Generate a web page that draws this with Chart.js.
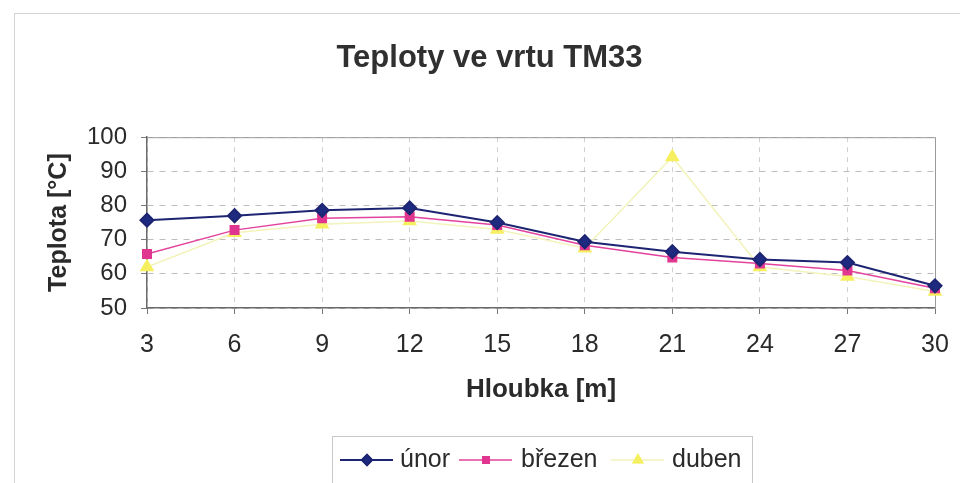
<!DOCTYPE html>
<html>
<head>
  <title>Teploty ve vrtu TM33</title>
  <script src="https://cdn.jsdelivr.net/npm/chart.js"></script>
  <style>
    body {
      margin: 0;
      background: #fff;
    }
    #wrap {
      width: 960px;
      height: 483px;
    }
  </style>
</head>
<body>
  <div id="wrap"><canvas id="tmChart" width="960" height="483"></canvas></div>

  <script>
    // hloubka [m]
    const depths = ['3', '6', '9', '12', '15', '18', '21', '24', '27', '30'];
    // teploty [°C]
    const unor   = [75.7, 77.0, 78.6, 79.3, 75.0, 69.4, 66.5, 64.2, 63.3, 56.5];
    const brezen = [65.8, 72.8, 76.3, 76.7, 74.3, 68.4, 64.8, 63.0, 61.0, 55.8];
    const duben  = [62.0, 72.0, 74.5, 75.5, 73.0, 67.5, 94.2, 62.0, 59.2, 54.8];
    const seriesNames = ['únor', 'březen', 'duben'];
    const yTicks = [50, 60, 70, 80, 90, 100];

    const FONT = '"Liberation Sans", Arial, sans-serif';
    const TXT = '#2a2a2a';

    // frame around whole chart + plot area top/right border
    const framePlugin = {
      id: 'frame',
      beforeDraw(chart) {
        const c = chart.ctx;
        c.save();
        c.strokeStyle = '#d4d4d4';
        c.lineWidth = 1;
        c.strokeRect(14.5, 13.5, 950, 480);
        c.restore();
      },
      beforeDatasetsDraw(chart) {
        const c = chart.ctx, a = chart.chartArea;
        c.save();
        c.strokeStyle = '#9a9a9a';
        c.lineWidth = 1;
        c.beginPath();
        c.moveTo(a.left, a.top + 0.5);
        c.lineTo(a.right + 0.5, a.top + 0.5);
        c.lineTo(a.right + 0.5, a.bottom);
        c.stroke();
        c.restore();
      }
    };

    // Excel-like legend: line with marker, boxed
    const legendPlugin = {
      id: 'boxLegend',
      afterDraw(chart) {
        const c = chart.ctx;
        const x0 = 332, y0 = 436, w = 420, h = 56;
        const cy = 460;
        c.save();
        c.fillStyle = '#fff';
        c.fillRect(x0, y0, w, h);
        c.strokeStyle = '#c8c8c8';
        c.lineWidth = 1;
        c.strokeRect(x0 + 0.5, y0 + 0.5, w, h);
        const starts = [340, 459, 611];
        chart.data.datasets.forEach((ds, i) => {
          const lx = starts[i];
          c.strokeStyle = ds.borderColor;
          c.lineWidth = ds.borderWidth;
          c.beginPath();
          c.moveTo(lx, cy);
          c.lineTo(lx + 53, cy);
          c.stroke();
          Chart.helpers.drawPoint(c, {
            pointStyle: ds.pointStyle,
            radius: ds.pointRadius - 1.5,
            rotation: 0,
            borderWidth: 1
          }, lx + 27, cy);
          c.fillStyle = ds.pointBackgroundColor;
          c.strokeStyle = ds.pointBorderColor;
          c.fill();
          c.stroke();
          c.fillStyle = TXT;
          c.font = '25px ' + FONT;
          c.textBaseline = 'middle';
          c.fillText(ds.label, [400, 521, 672][i], cy);
        });
        c.restore();
      }
    };

    const ctx = document.getElementById('tmChart').getContext('2d');
    const tmChart = new Chart(ctx, {
      type: 'line',
      data: {
        labels: depths,
        datasets: [{
          label: seriesNames[0],
          data: unor,
          borderColor: '#1d2572',
          borderWidth: 2,
          pointStyle: 'rectRot',
          pointRadius: 6.5,
          pointBackgroundColor: '#1d2a80',
          pointBorderColor: '#1d2572',
          tension: 0
        }, {
          label: seriesNames[1],
          data: brezen,
          borderColor: '#e2439c',
          borderWidth: 1.5,
          pointStyle: 'rect',
          pointRadius: 6,
          pointBackgroundColor: '#e0368f',
          pointBorderColor: '#e0368f',
          tension: 0
        }, {
          label: seriesNames[2],
          data: duben,
          borderColor: '#f3f3bc',
          borderWidth: 1.5,
          pointStyle: 'triangle',
          pointRadius: 7,
          pointBackgroundColor: '#f6f060',
          pointBorderColor: '#f6f060',
          tension: 0
        }]
      },
      options: {
        responsive: false,
        animation: false,
        layout: {
          padding: { top: 18, left: 44, right: 25, bottom: 75 }
        },
        plugins: {
          legend: { display: false },
          tooltip: { enabled: false },
          title: {
            display: true,
            text: 'Teploty ve vrtu TM33',
            color: '#303030',
            font: { family: FONT, size: 31, weight: 'bold' },
            padding: { top: 22, bottom: 60 }
          }
        },
        scales: {
          x: {
            offset: false,
            afterFit: s => { s.height = 100; s.paddingRight = 0; s.paddingLeft = 0; },
            grid: {
              color: '#d0d0d0',
              tickColor: '#777',
              tickLength: 6
            },
            border: { color: '#6a6a6a', width: 1.5, dash: [5, 5] },
            ticks: {
              color: TXT,
              padding: 16,
              maxRotation: 0,
              font: { family: FONT, size: 25 }
            },
            title: {
              display: true,
              text: 'Hloubka [m]',
              color: TXT,
              font: { family: FONT, size: 26, weight: 'bold' },
              padding: { top: 0, bottom: 3 }
            }
          },
          y: {
            min: 50,
            max: 100,
            afterFit: s => { s.width = 103; },
            afterBuildTicks: s => { s.ticks = yTicks.map(v => ({ value: v })); },
            grid: {
              color: '#bdbdbd',
              tickColor: '#777',
              tickLength: 6
            },
            border: { color: '#6a6a6a', width: 1.5, dash: [6, 6] },
            ticks: {
              color: TXT,
              padding: 14,
              font: { family: FONT, size: 24 }
            },
            title: {
              display: true,
              text: 'Teplota [°C]',
              color: TXT,
              font: { family: FONT, size: 25, weight: 'bold' },
              padding: { top: 0, bottom: 0 }
            }
          }
        }
      },
      plugins: [framePlugin, legendPlugin]
    });
  </script>
</body>
</html>
